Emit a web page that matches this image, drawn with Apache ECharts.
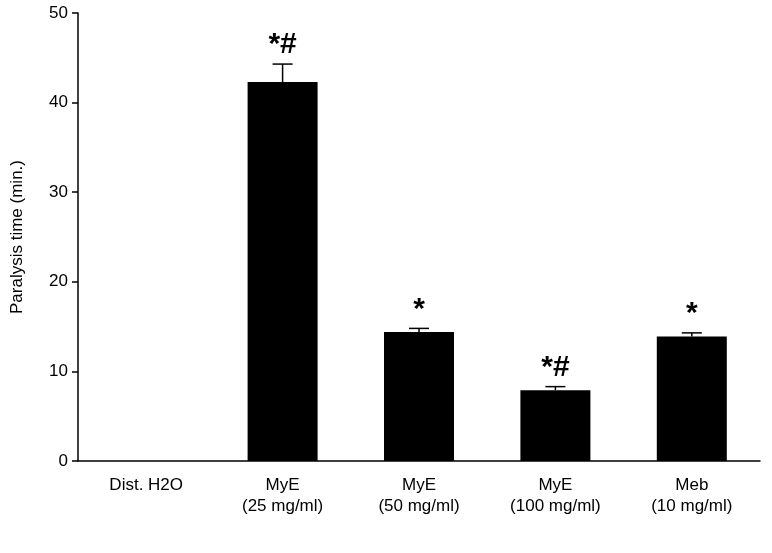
<!DOCTYPE html>
<html>
<head>
<meta charset="utf-8">
<script src="https://cdn.jsdelivr.net/npm/echarts@6/dist/echarts.min.js"></script>
<style>html,body{margin:0;background:#fff}#chart{width:772px;height:553px}</style>
</head>
<body>
<div id="chart"></div>
<script>
var categories = ['Dist. H2O', 'MyE\n(25 mg/ml)', 'MyE\n(50 mg/ml)', 'MyE\n(100 mg/ml)', 'Meb\n(10 mg/ml)'];
var means = [0, 42.3, 14.4, 7.9, 13.9];
var errors = [0, 2.0, 0.4, 0.4, 0.4];
var marks = ['', '*#', '*', '*#', '*'];

var chart = echarts.init(document.getElementById('chart'));

var option = {
    animation: false,
    grid: { left: 78, right: 12, top: 13, bottom: 92 },
    xAxis: {
        type: 'category',
        data: categories,
        axisLine: { lineStyle: { color: '#000', width: 1.5 } },
        axisTick: { show: false },
        axisLabel: { color: '#000', fontSize: 17, fontFamily: 'Liberation Sans', margin: 14, lineHeight: 21 }
    },
    yAxis: {
        type: 'value',
        min: 0, max: 50, interval: 10,
        name: 'Paralysis time (min.)',
        nameLocation: 'middle',
        nameGap: 52,
        nameTextStyle: { color: '#000', fontSize: 17, fontFamily: 'Liberation Sans' },
        splitLine: { show: false },
        axisLine: { show: true, lineStyle: { color: '#000', width: 1.5 } },
        axisTick: { show: true, length: 6, lineStyle: { color: '#000', width: 1.5 } },
        axisLabel: { color: '#000', fontSize: 17, fontFamily: 'Liberation Sans', margin: 10 }
    },
    series: [{
        type: 'bar',
        data: means,
        barWidth: 70,
        itemStyle: { color: '#000' }
    }, {
        type: 'custom',
        data: means.map(function (m, i) { return [i, m, errors[i]]; }),
        renderItem: function (params, api) {
            var i = api.value(0), m = api.value(1), e = api.value(2);
            if (m === 0) return null;
            var base = api.coord([i, m]);
            var top = api.coord([i, m + e]);
            var cap = 10;
            return {
                type: 'group',
                children: [{
                    type: 'line',
                    shape: { x1: base[0], y1: base[1], x2: top[0], y2: top[1] },
                    style: { stroke: '#000', lineWidth: 1.5 }
                }, {
                    type: 'line',
                    shape: { x1: top[0] - cap, y1: top[1], x2: top[0] + cap, y2: top[1] },
                    style: { stroke: '#000', lineWidth: 1.5 }
                }, {
                    type: 'text',
                    style: {
                        text: marks[i], x: top[0], y: top[1] - 4,
                        align: 'center', verticalAlign: 'bottom',
                        font: 'bold 30px Liberation Sans', fill: '#000'
                    }
                }]
            };
        },
        z: 5
    }]
};
chart.setOption(option);
</script>
</body>
</html>
